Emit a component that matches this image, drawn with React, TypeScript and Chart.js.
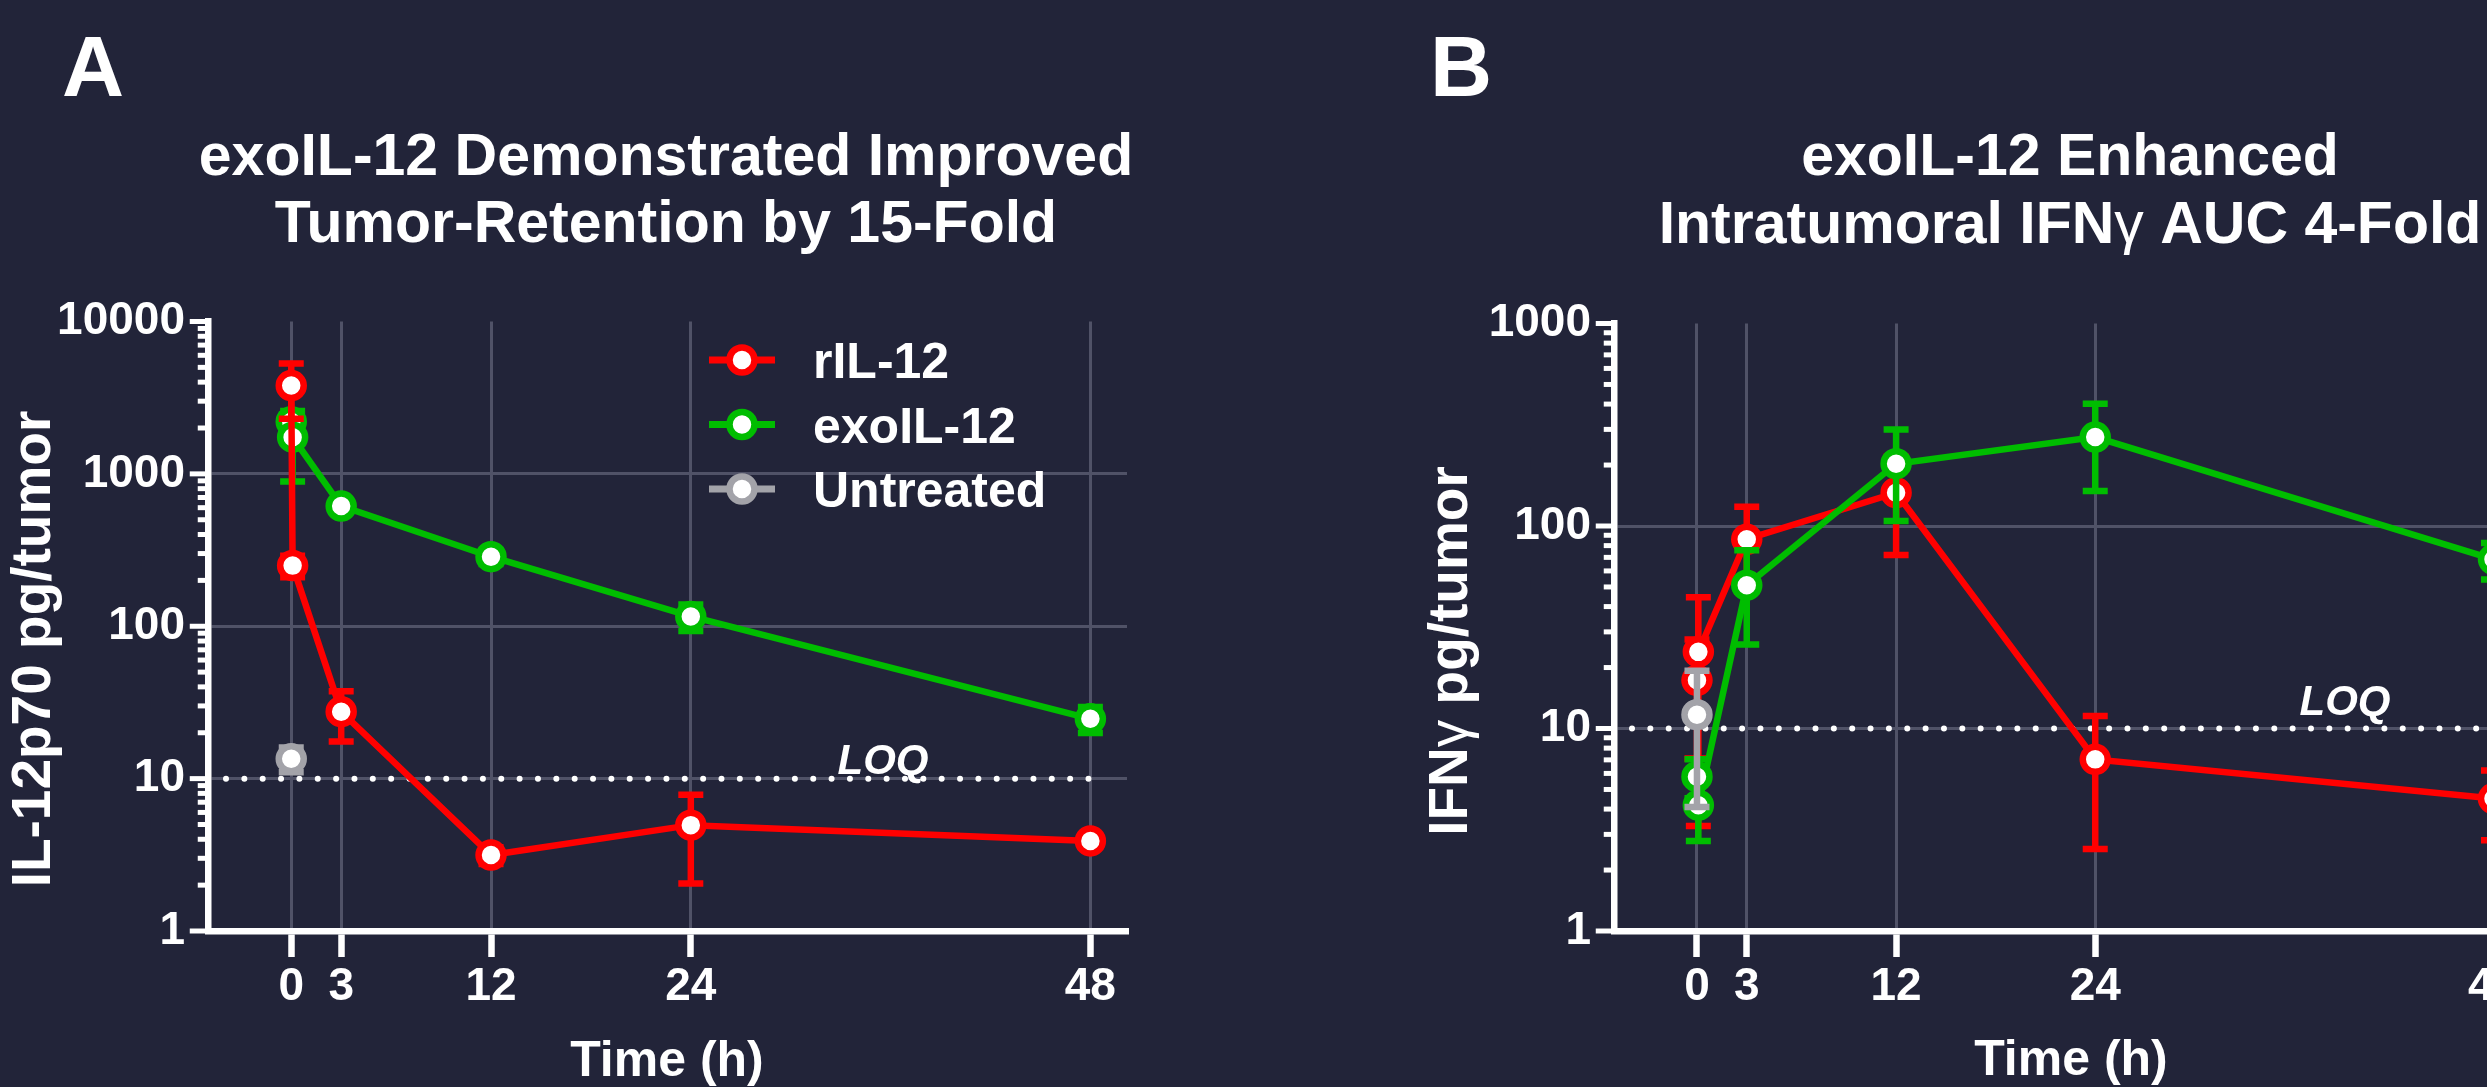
import React, { useEffect, useRef } from 'react';
import { Chart, registerables } from 'chart.js';

Chart.register(...registerables);

const PAGE_W = 2487;
const PAGE_H = 1087;
const BG = '#222439';
const GRID = '#505267';
const WHITE = '#ffffff';
const FONT = "'Liberation Sans', Arial, Helvetica, sans-serif";

// ---- series meta ----
const seriesNames = ['rIL-12', 'exoIL-12', 'Untreated'];
const seriesColors = ['#ff0000', '#00bd00', '#a3a3a9'];

// ---- axes ----
const xTickValues = [0, 3, 12, 24, 48];
const xTickLabels = ['0', '3', '12', '24', '48'];
const xMin = -5;
const xMax = 50.2;
const aYMajors = [1, 10, 100, 1000, 10000];
const aYLabels = ['1', '10', '100', '1000', '10000'];
const bYMajors = [1, 10, 100, 1000];
const bYLabels = ['1', '10', '100', '1000'];
const minorMultipliers = [2, 3, 4, 5, 6, 7, 8, 9];
const loqValue = 10;

// ---- Panel A: IL-12p70 pg/tumor ----
const aTimeR = [0, 0.083, 3, 12, 24, 48];
const aMeanR = [3800, 250, 27.5, 3.15, 4.95, 3.9];
const aSdR = [1500, 40, 10, 0.4, 2.9, 0.3];
const aTimeExo = [0, 0.083, 3, 12, 24, 48];
const aMeanExo = [2200, 1740, 615, 286, 116, 24.7];
const aSdExo = [250, 850, 50, 30, 23, 4.8];
const aTimeUnt = [0];
const aMeanUnt = [13.5];
const aSdUnt = [2.5];

// ---- Panel B: IFNγ pg/tumor ----
const bTimeR = [0, 0.083, 3, 12, 24, 48];
const bMeanR = [17.3, 23.9, 86, 146, 7.04, 4.51];
const bSdR = [10.2, 20.6, 38.5, 74, 4.5, 1.7];
const bTimeExo = [0, 0.083, 3, 12, 24, 48];
const bMeanExo = [5.78, 4.18, 51, 203, 275, 68.5];
const bSdExo = [1.26, 1.4, 25, 97, 126, 14];
const bTimeUnt = [0];
const bMeanUnt = [11.7];
const bSdUnt = [7.6];

type Seg = { t: string; f: string };
type Series = { time: number[]; mean: number[]; sd: number[] };
type Panel = {
  id: string;
  ox: number;
  canvasW: number;
  area: { left: number; right: number; top: number; bottom: number };
  yMax: number;
  yMajors: number[];
  yLabels: string[];
  yGrid: number[];
  series: Series[];
  order: number[];
  letter: { t: string; x: number; y: number };
  title: { x: number; y: number[]; lines: Seg[][] };
  yTitle: { x: number; y: number; segs: Seg[] };
  xTitle: { x: number; y: number; t: string };
  loq: { from: number; to: number; textX: number; textY: number };
  legend?: { lineFrom: number; lineTo: number; markX: number; textX: number; y: number[] };
};

const B = (px: number) => `bold ${px}px ${FONT}`;
const N = (px: number) => `normal ${px}px ${FONT}`;

const panelA: Panel = {
  id: 'A',
  ox: 0,
  canvasW: 1240,
  area: { left: 208, right: 1127, top: 321.5, bottom: 931 },
  yMax: 10000,
  yMajors: aYMajors,
  yLabels: aYLabels,
  yGrid: [10, 100, 1000],
  series: [
    { time: aTimeR, mean: aMeanR, sd: aSdR },
    { time: aTimeExo, mean: aMeanExo, sd: aSdExo },
    { time: aTimeUnt, mean: aMeanUnt, sd: aSdUnt },
  ],
  order: [1, 2, 0],
  letter: { t: 'A', x: 62, y: 96 },
  title: {
    x: 666,
    y: [175, 242],
    lines: [
      [{ t: 'exoIL-12 Demonstrated Improved', f: B(59) }],
      [{ t: 'Tumor-Retention by 15-Fold', f: B(59) }],
    ],
  },
  yTitle: { x: 50, y: 649, segs: [{ t: 'IL-12p70 pg/tumor', f: B(55) }] },
  xTitle: { x: 667, y: 1076, t: 'Time (h)' },
  loq: { from: 226, to: 1106, textX: 883, textY: 774 },
  legend: { lineFrom: 709, lineTo: 775, markX: 742, textX: 813, y: [360, 424.5, 489] },
};

const panelB: Panel = {
  id: 'B',
  ox: 1250,
  canvasW: 1400,
  area: { left: 1614, right: 2530, top: 323.5, bottom: 931 },
  yMax: 1000,
  yMajors: bYMajors,
  yLabels: bYLabels,
  yGrid: [10, 100],
  series: [
    { time: bTimeR, mean: bMeanR, sd: bSdR },
    { time: bTimeExo, mean: bMeanExo, sd: bSdExo },
    { time: bTimeUnt, mean: bMeanUnt, sd: bSdUnt },
  ],
  order: [2, 1, 0],
  letter: { t: 'B', x: 1430, y: 96 },
  title: {
    x: 2070,
    y: [175, 243],
    lines: [
      [{ t: 'exoIL-12 Enhanced', f: B(59) }],
      [
        { t: 'Intratumoral IFN', f: B(59) },
        { t: 'γ', f: N(59) },
        { t: ' AUC 4-Fold', f: B(59) },
      ],
    ],
  },
  yTitle: {
    x: 1467,
    y: 651,
    segs: [
      { t: 'IFN', f: B(55) },
      { t: 'γ', f: N(55) },
      { t: ' pg/tumor', f: B(55) },
    ],
  },
  xTitle: { x: 2071, y: 1075, t: 'Time (h)' },
  loq: { from: 1632, to: 2530, textX: 2345, textY: 715 },
};

function allYTicks(majors: number[]): number[] {
  const out: number[] = [];
  majors.forEach((m, i) => {
    out.push(m);
    if (i < majors.length - 1) minorMultipliers.forEach((k) => out.push(k * m));
  });
  return out;
}

function drawSegs(ctx: CanvasRenderingContext2D, segs: Seg[], x: number, y: number, align: 'center' | 'left') {
  let total = 0;
  const widths = segs.map((s) => {
    ctx.font = s.f;
    const w = ctx.measureText(s.t).width;
    total += w;
    return w;
  });
  let cx = align === 'center' ? x - total / 2 : x;
  ctx.textAlign = 'left';
  ctx.textBaseline = 'alphabetic';
  segs.forEach((s, i) => {
    ctx.font = s.f;
    ctx.fillText(s.t, cx, y);
    cx += widths[i];
  });
}

function makeDecor(p: Panel) {
  const X = (x: number) => x - p.ox;
  return {
    id: 'decor' + p.id,
    beforeDatasetsDraw(chart: any) {
      const ctx: CanvasRenderingContext2D = chart.ctx;
      const ys = chart.scales.y;
      const area = chart.chartArea;
      ctx.save();
      // y tick marks (major long, minor short)
      ctx.strokeStyle = WHITE;
      ctx.lineWidth = 5;
      ctx.lineCap = 'butt';
      const edge = area.left - 3.25;
      allYTicks(p.yMajors).forEach((v) => {
        const y = ys.getPixelForValue(v);
        const len = p.yMajors.includes(v) ? 15 : 7;
        ctx.beginPath();
        ctx.moveTo(edge - len, y);
        ctx.lineTo(area.left, y);
        ctx.stroke();
      });
      // LOQ dotted line
      const yl = ys.getPixelForValue(loqValue);
      ctx.setLineDash([0.001, 18.35]);
      ctx.lineCap = 'round';
      ctx.lineWidth = 6;
      ctx.beginPath();
      ctx.moveTo(X(p.loq.from), yl);
      ctx.lineTo(X(p.loq.to), yl);
      ctx.stroke();
      ctx.setLineDash([]);
      ctx.fillStyle = WHITE;
      ctx.font = `italic bold 42px ${FONT}`;
      ctx.textAlign = 'center';
      ctx.textBaseline = 'alphabetic';
      ctx.fillText('LOQ', X(p.loq.textX), p.loq.textY);
      ctx.restore();
    },
    beforeDatasetDraw(chart: any, args: any) {
      const s = p.series[args.index];
      if (!s) return;
      const ctx: CanvasRenderingContext2D = chart.ctx;
      const xs = chart.scales.x;
      const ys = chart.scales.y;
      ctx.save();
      ctx.strokeStyle = seriesColors[args.index];
      ctx.lineWidth = 6.5;
      ctx.lineCap = 'butt';
      s.time.forEach((t, j) => {
        const px = xs.getPixelForValue(t);
        const hi = ys.getPixelForValue(s.mean[j] + s.sd[j]);
        const lo = ys.getPixelForValue(Math.max(s.mean[j] - s.sd[j], 0.01));
        ctx.beginPath();
        ctx.moveTo(px, hi);
        ctx.lineTo(px, lo);
        ctx.moveTo(px - 12.5, hi);
        ctx.lineTo(px + 12.5, hi);
        ctx.moveTo(px - 12.5, lo);
        ctx.lineTo(px + 12.5, lo);
        ctx.stroke();
      });
      ctx.restore();
    },
    afterDraw(chart: any) {
      const ctx: CanvasRenderingContext2D = chart.ctx;
      ctx.save();
      ctx.fillStyle = WHITE;
      // panel letter
      ctx.font = B(86);
      ctx.textAlign = 'left';
      ctx.textBaseline = 'alphabetic';
      ctx.fillText(p.letter.t, X(p.letter.x), p.letter.y);
      // title
      p.title.lines.forEach((segs, i) => drawSegs(ctx, segs, X(p.title.x), p.title.y[i], 'center'));
      // x title
      ctx.font = B(50);
      ctx.textAlign = 'center';
      ctx.fillText(p.xTitle.t, X(p.xTitle.x), p.xTitle.y);
      // y title
      ctx.save();
      ctx.translate(X(p.yTitle.x), p.yTitle.y);
      ctx.rotate(-Math.PI / 2);
      drawSegs(ctx, p.yTitle.segs, 0, 0, 'center');
      ctx.restore();
      // legend
      if (p.legend) {
        const L = p.legend;
        seriesNames.forEach((name, i) => {
          const y = L.y[i];
          ctx.strokeStyle = seriesColors[i];
          ctx.lineWidth = 7;
          ctx.beginPath();
          ctx.moveTo(X(L.lineFrom), y);
          ctx.lineTo(X(L.lineTo), y);
          ctx.stroke();
          ctx.beginPath();
          ctx.arc(X(L.markX), y, 12.5, 0, Math.PI * 2);
          ctx.fillStyle = WHITE;
          ctx.fill();
          ctx.lineWidth = 6.5;
          ctx.stroke();
          ctx.fillStyle = WHITE;
          ctx.font = B(50);
          ctx.textAlign = 'left';
          ctx.fillText(name, X(L.textX), y + 18);
        });
      }
      ctx.restore();
    },
  };
}

function buildConfig(p: Panel): any {
  const yTicks = allYTicks(p.yMajors);
  const datasets = p.series.map((s, i) => ({
    label: seriesNames[i],
    data: s.time.map((t, j) => ({ x: t, y: s.mean[j] })),
    borderColor: seriesColors[i],
    backgroundColor: seriesColors[i],
    borderWidth: 6.5,
    pointRadius: 12.5,
    pointBorderWidth: 6.5,
    pointBackgroundColor: WHITE,
    pointBorderColor: seriesColors[i],
    tension: 0,
    order: p.order[i],
    clip: false,
  }));
  return {
    type: 'line',
    data: { datasets },
    options: {
      responsive: false,
      animation: false,
      devicePixelRatio: 1,
      events: [],
      layout: {
        padding: {
          left: 0,
          top: p.area.top,
          right: p.canvasW - (p.area.right - p.ox),
          bottom: 0,
        },
      },
      plugins: {
        legend: { display: false },
        tooltip: { enabled: false },
        title: { display: false },
      },
      scales: {
        x: {
          type: 'linear',
          min: xMin,
          max: xMax,
          afterBuildTicks: (s: any) => {
            s.ticks = xTickValues.map((v) => ({ value: v }));
          },
          afterFit: (s: any) => {
            s.height = PAGE_H - p.area.bottom;
          },
          ticks: {
            autoSkip: false,
            maxRotation: 0,
            color: WHITE,
            padding: 3,
            font: { family: FONT, size: 46, weight: 'bold', lineHeight: 1.2 },
            callback: (v: number) => {
              const k = xTickValues.indexOf(v);
              return k >= 0 ? xTickLabels[k] : '';
            },
          },
          grid: {
            color: GRID,
            lineWidth: 3,
            drawTicks: true,
            tickLength: 26,
            tickWidth: 6.5,
            tickColor: WHITE,
          },
          border: { display: true, color: WHITE, width: 6.5 },
        },
        y: {
          type: 'logarithmic',
          min: 1,
          max: p.yMax,
          afterBuildTicks: (s: any) => {
            s.ticks = yTicks.map((v) => ({ value: v }));
          },
          afterFit: (s: any) => {
            s.width = p.area.left - p.ox;
          },
          ticks: {
            autoSkip: false,
            color: WHITE,
            padding: 23,
            font: { family: FONT, size: 46, weight: 'bold', lineHeight: 1.2 },
            callback: (v: number) => {
              const k = p.yMajors.indexOf(v);
              return k >= 0 ? p.yLabels[k] : '';
            },
          },
          grid: {
            drawTicks: false,
            lineWidth: 3,
            color: (ctx: any) =>
              ctx.tick && p.yGrid.includes(ctx.tick.value) ? GRID : 'rgba(0,0,0,0)',
          },
          border: { display: true, color: WHITE, width: 6.5 },
        },
      },
    },
    plugins: [makeDecor(p)],
  };
}

function PanelChart({ p }: { p: Panel }) {
  const ref = useRef<HTMLCanvasElement>(null);
  useEffect(() => {
    if (!ref.current) return;
    const chart = new Chart(ref.current, buildConfig(p));
    return () => chart.destroy();
  }, [p]);
  return (
    <canvas
      ref={ref}
      width={p.canvasW}
      height={PAGE_H}
      style={{ position: 'absolute', left: p.ox, top: 0, width: p.canvasW, height: PAGE_H }}
    />
  );
}

export default function App() {
  return (
    <div
      style={{
        position: 'fixed',
        left: 0,
        top: 0,
        width: PAGE_W,
        height: PAGE_H,
        overflow: 'hidden',
        background: BG,
      }}
    >
      <PanelChart p={panelA} />
      <PanelChart p={panelB} />
    </div>
  );
}
